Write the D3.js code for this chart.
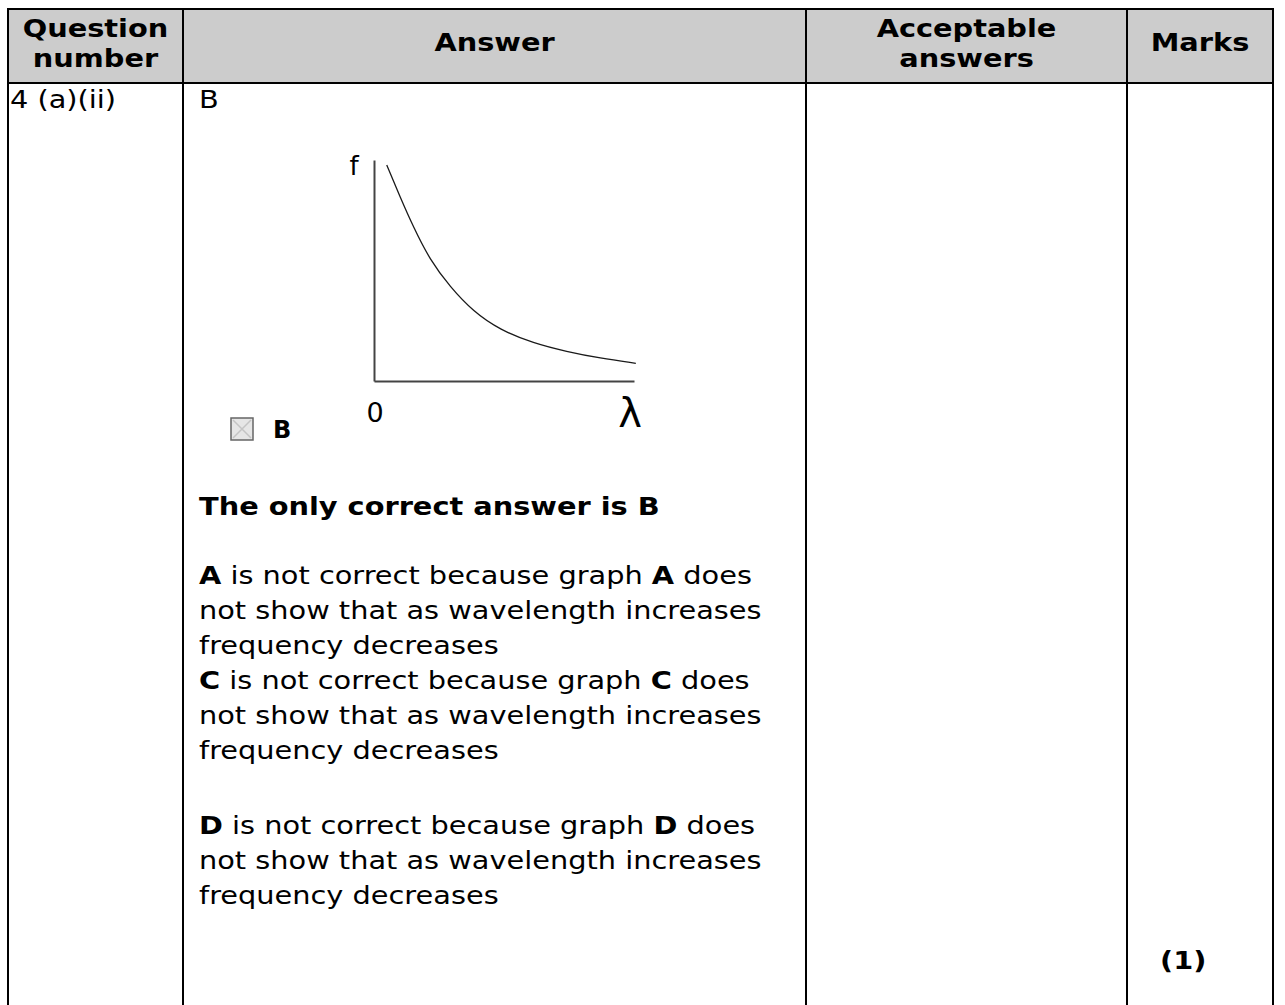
<!DOCTYPE html>
<html>
<head>
<meta charset="utf-8">
<script src="https://cdn.jsdelivr.net/npm/d3@7"></script>
<style>
  body { margin: 0; background: #fff; }
  svg { display: block; }
  text { font-family: "DejaVu Sans", Verdana, sans-serif; fill: #000; }
</style>
</head>
<body>
<div id="chart"></div>
<script>
// table content
const headers = [["Question", "number"], ["Answer"], ["Acceptable", "answers"], ["Marks"]];
const questionNumber = "4 (a)(ii)";
const answerKey = "B";
const marks = "(1)";
const optionLabel = "B";

// body text, [text, bold] pieces per line
const bodyLines = [
    [["The only correct answer is B", true]],
    [["A", true], [" is not correct because graph ", false], ["A", true], [" does", false]],
    [["not show that as wavelength increases", false]],
    [["frequency decreases", false]],
    [["C", true], [" is not correct because graph ", false], ["C", true], [" does", false]],
    [["not show that as wavelength increases", false]],
    [["frequency decreases", false]],
    [["D", true], [" is not correct because graph ", false], ["D", true], [" does", false]],
    [["not show that as wavelength increases", false]],
    [["frequency decreases", false]]
];

// curve f against lambda
const lambdaVals = [0.49, 1.0, 1.51, 2.15, 2.92, 3.82, 4.85, 6.13, 7.41, 8.69, 10.07];
const freqVals = [9.77, 8.34, 6.98, 5.48, 4.27, 3.14, 2.31, 1.71, 1.33, 1.03, 0.80];

function drawPage() {
    const W = 1285, H = 1005;
    const SX = 1.2; // glyphs in the picture are stretched sideways
    const svg = d3.select("#chart").append("svg").attr("width", W).attr("height", H);

    const colX = [8, 183, 806, 1127, 1273];
    const top = 9, headBottom = 83;

    // header background
    svg.append("rect").attr("x", colX[0]).attr("y", top).attr("width", colX[4] - colX[0]).attr("height", headBottom - top)
        .attr("fill", "#cccccc");

    function addText(x, y, pieces, size, anchor) {
        const t = svg.append("text")
            .attr("transform", `translate(${x},${y}) scale(${SX},1)`)
            .attr("font-size", size)
            .attr("text-anchor", anchor || "start");
        pieces.forEach(([s, b]) => {
            t.append("tspan").attr("font-weight", b ? "bold" : "normal").text(s);
        });
        return t;
    }

    // header labels
    const headerY = { 1: [51], 2: [37, 67] };
    headers.forEach((lines, i) => {
        const cx = (colX[i] + colX[i + 1]) / 2;
        headerY[lines.length].forEach((y, j) => addText(cx, y, [[lines[j], true]], 24, "middle"));
    });

    // grid lines
    const grid = svg.append("g").attr("stroke", "#000").attr("stroke-width", 2);
    grid.append("line").attr("x1", colX[0] - 1).attr("x2", colX[4] + 1).attr("y1", top).attr("y2", top);
    grid.append("line").attr("x1", colX[0] - 1).attr("x2", colX[4] + 1).attr("y1", headBottom).attr("y2", headBottom);
    colX.forEach(x => grid.append("line").attr("x1", x).attr("x2", x).attr("y1", top).attr("y2", H));

    // first row
    addText(10, 108, [[questionNumber, false]], 24);
    addText(199, 108, [[answerKey, false]], 24);

    // sketch graph
    const x = d3.scaleLinear().domain([0, 10]).range([374, 634]);
    const y = d3.scaleLinear().domain([0, 10]).range([381, 160]);
    const g = svg.append("g");
    const axL = g.append("g").attr("transform", `translate(${x(0)},0)`)
        .call(d3.axisLeft(y).tickValues([]).tickSizeOuter(0));
    const axB = g.append("g").attr("transform", `translate(0,${y(0)})`)
        .call(d3.axisBottom(x).tickValues([]).tickSizeOuter(0));
    [axL, axB].forEach(a => a.select(".domain").attr("stroke", "#444").attr("stroke-width", 2));

    const pts = lambdaVals.map((l, i) => [l, freqVals[i]]);
    g.append("path").datum(pts)
        .attr("fill", "none").attr("stroke", "#1a1a1a").attr("stroke-width", 1.3)
        .attr("d", d3.line().x(d => x(d[0])).y(d => y(d[1])).curve(d3.curveBasis));

    g.append("text").attr("x", 354).attr("y", 175).attr("font-size", 26).attr("text-anchor", "middle")
        .attr("font-family", "Liberation Sans, sans-serif").text("f");
    g.append("text").attr("x", 375).attr("y", 422).attr("font-size", 27).attr("text-anchor", "middle")
        .attr("font-family", "Liberation Sans, sans-serif").attr("fill", "#222").text("0");
    g.append("text").attr("x", 630).attr("y", 427).attr("font-size", 40).attr("text-anchor", "middle")
        .attr("font-family", "DejaVu Serif, serif").attr("fill", "#222").text("λ");

    // option box
    const bx = 231, by = 418, bs = 22;
    g.append("rect").attr("x", bx).attr("y", by).attr("width", bs).attr("height", bs)
        .attr("fill", "#e6e6e6").attr("stroke", "#666").attr("stroke-width", 1.5);
    g.append("path").attr("d", `M${bx + 2},${by + 2}L${bx + bs - 2},${by + bs - 2}M${bx + bs - 2},${by + 2}L${bx + 2},${by + bs - 2}`)
        .attr("stroke", "#c4c4c4").attr("stroke-width", 1.5);
    g.append("text").attr("x", 273).attr("y", 438).attr("font-size", 24).attr("font-weight", "bold")
        .attr("font-family", "Liberation Sans, sans-serif").attr("fill", "#222").text(optionLabel);

    // explanation text
    const lineY = [515, 584, 619, 654, 689, 724, 759, 834, 869, 904];
    bodyLines.forEach((pieces, i) => addText(199, lineY[i], pieces, 24));

    // marks
    addText(1160, 969, [[marks, true]], 24);
}

document.addEventListener("DOMContentLoaded", () => {
    drawPage();
});
</script>
</body>
</html>
